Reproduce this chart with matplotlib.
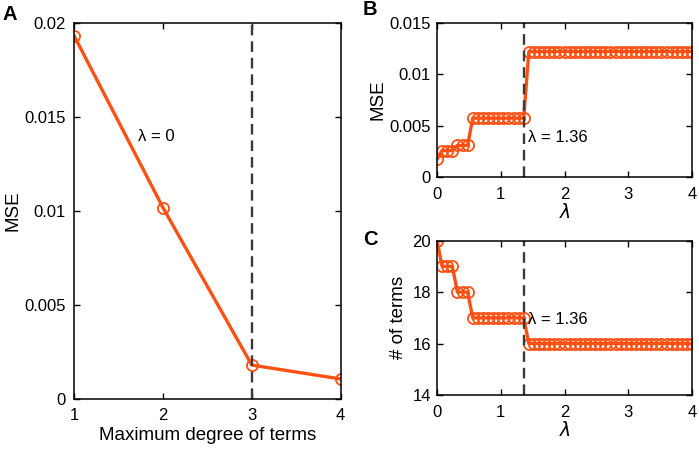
import matplotlib
matplotlib.use("Agg")
import matplotlib.pyplot as plt

plt.rcParams['font.family'] = ['Liberation Sans', 'DejaVu Sans']
plt.rcParams['mathtext.fontset'] = 'dejavusans'

# panel A: MSE vs maximum degree
degree = [1, 2, 3, 4]
mse_degree = [0.01933, 0.01017, 0.00178, 0.00104]

# panels B/C: sweep over lambda
lam = [0.00, 0.08, 0.16, 0.24, 0.32, 0.40, 0.48, 0.56, 0.64, 0.72,
       0.80, 0.88, 0.96, 1.04, 1.12, 1.20, 1.28, 1.36, 1.44, 1.52,
       1.60, 1.68, 1.76, 1.84, 1.92, 2.00, 2.08, 2.16, 2.24, 2.32,
       2.40, 2.48, 2.56, 2.64, 2.72, 2.80, 2.88, 2.96, 3.04, 3.12,
       3.20, 3.28, 3.36, 3.44, 3.52, 3.60, 3.68, 3.76, 3.84, 3.92,
       4.00]
mse_lam = ([0.00175] + [0.0026] * 3 + [0.0031] * 3 + [0.00575] * 11
           + [0.01222] * 33)
n_terms = [20] + [19] * 3 + [18] * 3 + [17] * 11 + [16] * 33

lam_sel = 1.36
deg_sel = 3

col = '#FF5014'
dash_col = '#3a3a3a'
fs_tick = 12
fs_lab = 13.5

fig = plt.figure(figsize=(6.99, 4.51), dpi=100)
axA = fig.add_axes([0.1059, 0.1164, 0.3815, 0.8326])
axB = fig.add_axes([0.6252, 0.6069, 0.3648, 0.3421])
axC = fig.add_axes([0.6252, 0.1242, 0.3648, 0.3421])

for ax in (axA, axB, axC):
    ax.tick_params(direction='in', length=4, width=1, labelsize=fs_tick,
                   top=True, right=True)
    ax.tick_params(axis='x', pad=7)
    ax.tick_params(axis='y', pad=4.5)
    for s in ax.spines.values():
        s.set_linewidth(1.1)

# A
axA.plot(degree, mse_degree, '-o', color=col, lw=2.4, ms=8,
         mfc='none', mew=1.3)
axA.axvline(deg_sel, color=dash_col, lw=1.7, ls=(0, (4.5, 2.5)))
axA.set_xlim(1, 4)
axA.set_ylim(0, 0.02)
axA.set_xticks([1, 2, 3, 4])
axA.set_yticks([0, 0.005, 0.01, 0.015, 0.02])
axA.set_yticklabels(['0', '0.005', '0.01', '0.015', '0.02'])
axA.tick_params(axis='y', pad=6)
axA.set_xlabel('Maximum degree of terms', fontsize=fs_lab, labelpad=3)
axA.set_ylabel('MSE', fontsize=fs_lab, labelpad=2)
axA.text(1.72, 0.01396, 'λ = 0', fontsize=fs_tick, va='center')

# B
axB.plot(lam, mse_lam, '-o', color=col, lw=2.4, ms=8, mfc='none', mew=1.3)
axB.axvline(lam_sel, color=dash_col, lw=1.7, ls=(0, (4.5, 2.5)))
axB.set_xlim(0, 4)
axB.set_ylim(0, 0.015)
axB.set_xticks([0, 1, 2, 3, 4])
axB.set_yticks([0, 0.005, 0.01, 0.015])
axB.set_yticklabels(['0', '0.005', '0.01', '0.015'])
axB.set_xlabel(r'$\lambda$', fontsize=fs_lab, labelpad=1)
axB.set_ylabel('MSE', fontsize=fs_lab, labelpad=2)
axB.text(1.43, 0.0039, 'λ = 1.36', fontsize=fs_tick, va='center')

# C
axC.plot(lam, n_terms, '-o', color=col, lw=2.4, ms=8, mfc='none', mew=1.3)
axC.axvline(lam_sel, color=dash_col, lw=1.7, ls=(0, (4.5, 2.5)))
axC.set_xlim(0, 4)
axC.set_ylim(14, 20)
axC.set_xticks([0, 1, 2, 3, 4])
axC.set_yticks([14, 16, 18, 20])
axC.set_xlabel(r'$\lambda$', fontsize=fs_lab, labelpad=1)
axC.set_ylabel('# of terms', fontsize=fs_lab, labelpad=4)
axC.text(1.42, 16.94, 'λ = 1.36', fontsize=fs_tick, va='center')

fig.text(0.004, 0.99, 'A', fontsize=14.5, fontweight='bold', va='top')
fig.text(0.519, 1.0, 'B', fontsize=14.5, fontweight='bold', va='top')
fig.text(0.519, 0.49, 'C', fontsize=14.5, fontweight='bold', va='top')

fig.savefig('out.png', dpi=100)
